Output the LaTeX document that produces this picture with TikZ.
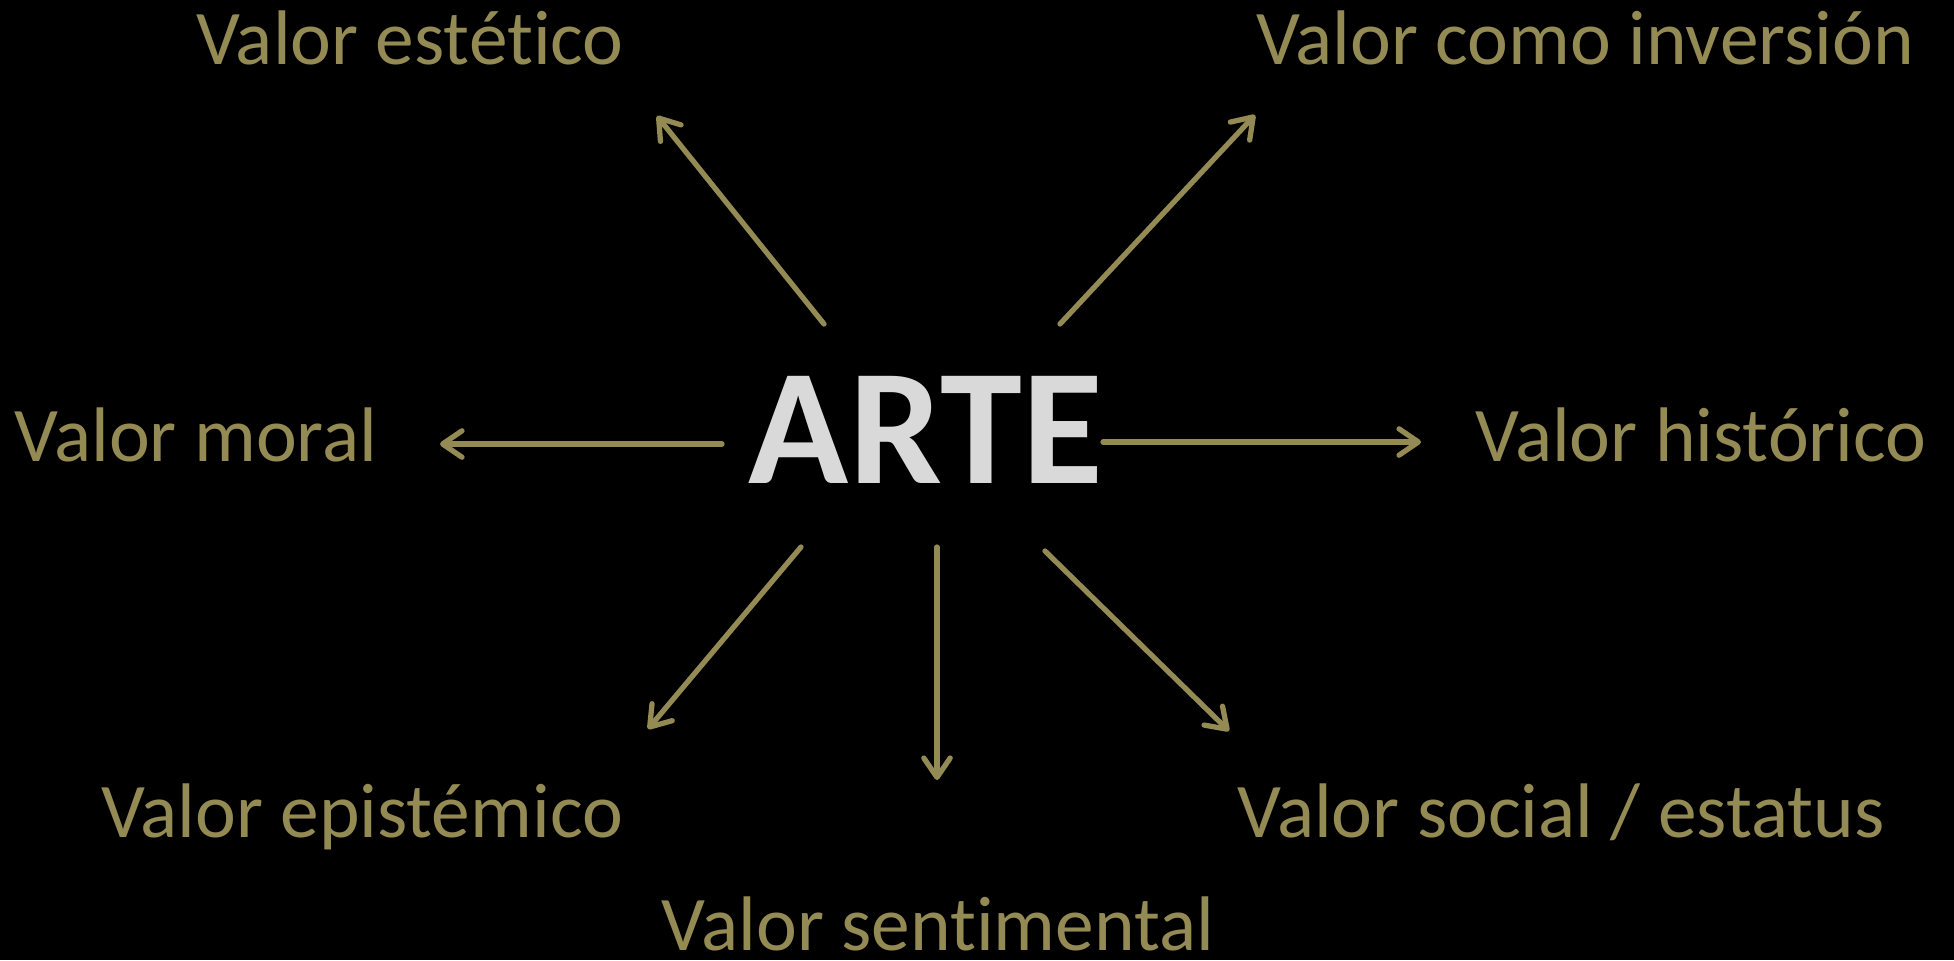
\documentclass[tikz,border=0pt]{standalone}
\usepackage{fontspec}
\setmainfont{Carlito}[Ligatures={NoCommon,NoContextual,NoRare},Contextuals=NoAlternate]
\usepackage{tikz}
\usetikzlibrary{arrows.meta}
\definecolor{olivo}{HTML}{948A54}
\definecolor{gris}{HTML}{D9D9D9}

\begin{document}
\begin{tikzpicture}[x=0.01cm,y=-0.01cm,
    valor/.style={text=olivo,font=\fontsize{22}{26}\selectfont,anchor=base,inner sep=0pt},
    flecha/.style={draw=olivo,line width=1.5pt,line cap=round,-{Straight Barb[length=5.5pt,width=7.5pt,round]}}]
    \fill[black] (0,0) rectangle (1954,960);
    \useasboundingbox (0,0) rectangle (1954,960);
    \node[text=gris,font=\bfseries\fontsize{47}{56}\selectfont,anchor=base,inner sep=0pt] (arte) at (926,483) {ARTE};
    \node[valor] (est) at (410,64) {Valor estético};
    \node[valor] (inv) at (1585,64) {Valor como inversión};
    \node[valor] (mor) at (196,461) {Valor moral};
    \node[valor] (his) at (1701,461) {Valor histórico};
    \node[valor] (epi) at (362,837) {Valor epistémico};
    \node[valor] (sen) at (938,950) {Valor sentimental};
    \node[valor] (soc) at (1561,837) {Valor social / estatus};
    % extremos de las flechas
    \coordinate (est-a) at (824,324);
    \coordinate (est-b) at (657,116);
    \coordinate (inv-a) at (1060,324);
    \coordinate (inv-b) at (1255,115);
    \coordinate (mor-a) at (722,444);
    \coordinate (mor-b) at (440,444);
    \coordinate (his-a) at (1103,442);
    \coordinate (his-b) at (1421,442);
    \coordinate (epi-a) at (801,547);
    \coordinate (epi-b) at (648,729);
    \coordinate (sen-a) at (937,547);
    \coordinate (sen-b) at (937,780);
    \coordinate (soc-a) at (1045,551);
    \coordinate (soc-b) at (1229,731);
    \draw [flecha] (est-a) -- (est-b);
    \draw [flecha] (inv-a) -- (inv-b);
    \draw [flecha] (mor-a) -- (mor-b);
    \draw [flecha] (his-a) -- (his-b);
    \draw [flecha] (epi-a) -- (epi-b);
    \draw [flecha] (sen-a) -- (sen-b);
    \draw [flecha] (soc-a) -- (soc-b);
\end{tikzpicture}
\end{document}
